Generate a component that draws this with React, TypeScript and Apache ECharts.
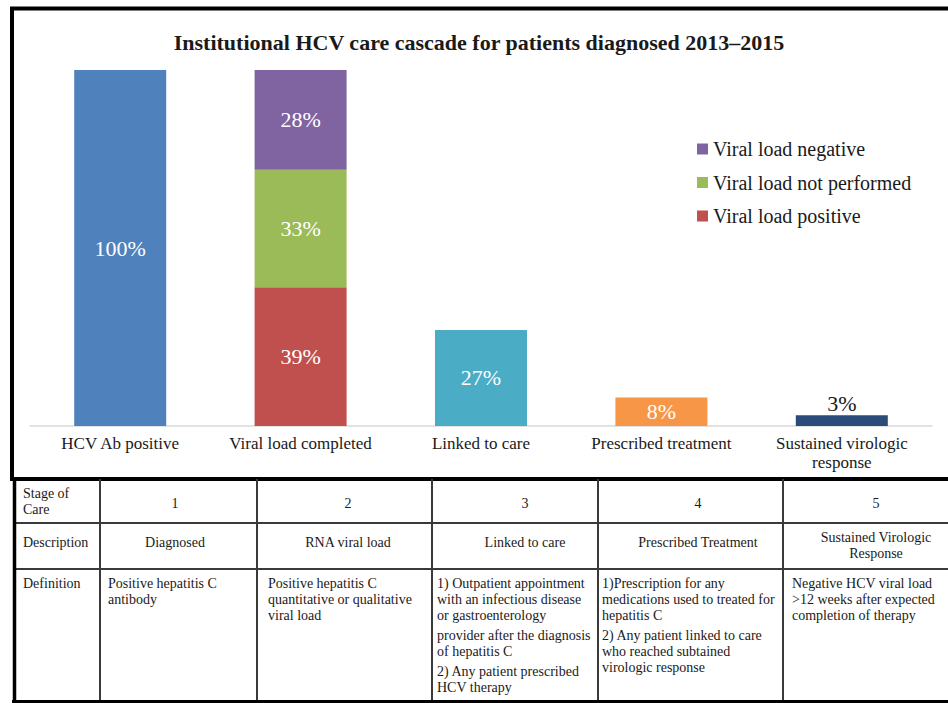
import React, { useEffect, useRef } from "react";
import * as echarts from "echarts";

// ---- Chart data ----
const titleText = "Institutional HCV care cascade for patients diagnosed 2013–2015";
const categories = [
  "HCV Ab positive",
  "Viral load completed",
  "Linked to care",
  "Prescribed treatment",
  "Sustained virologic\nresponse",
];
const cascadeValues = [100, null, 27, 8, 3];
const cascadeColors = ["#4F81BD", "#4F81BD", "#4BACC6", "#F79646", "#2B4C7A"];
const viralLoadPositive = [null, 39, null, null, null];
const viralLoadNotPerformed = [null, 33, null, null, null];
const viralLoadNegative = [null, 28, null, null, null];
const legendNames = ["Viral load negative", "Viral load not performed", "Viral load positive"];

// ---- Table data ----
const rowHeaders = ["Stage of\nCare", "Description", "Definition"];
const stageRow = ["1", "2", "3", "4", "5"];
const descriptionRow = [
  "Diagnosed",
  "RNA viral load",
  "Linked to care",
  "Prescribed Treatment",
  "Sustained Virologic\nResponse",
];
const definitionRow: string[][][] = [
  [["Positive hepatitis C", "antibody"]],
  [["Positive hepatitis C", "quantitative or qualitative", "viral load"]],
  [
    ["1) Outpatient appointment", "with an infectious disease", "or gastroenterology"],
    ["provider after the diagnosis", "of hepatitis C"],
    ["2) Any patient prescribed", "HCV therapy"],
  ],
  [
    ["1)Prescription for any", "medications used to treated for", "hepatitis C"],
    ["2) Any patient linked to care", "who reached subtained", "virologic response"],
  ],
  [["Negative HCV viral load", ">12 weeks after expected", "completion of therapy"]],
];

const FAMILY = "Liberation Serif";
const TEXT = "#1a1a1a";

export default function App() {
  const ref = useRef<HTMLDivElement>(null);

  useEffect(() => {
    if (!ref.current) return;
    const chart = echarts.init(ref.current, null, { renderer: "svg" });

    // table layout
    const colLines = [100, 257, 432, 598, 783];
    const colCenters = [175, 348, 525, 698, 876];
    const colLefts = [108, 268, 437, 602, 792];
    const tableTop = 479;
    const tableBottom = 701.5;
    const rowLines = [523, 569];

    const graphics: any[] = [];
    // chart box
    graphics.push({
      type: "rect",
      shape: { x: 12, y: 8.5, width: 970, height: 470.5 },
      style: { fill: "none", stroke: "#000", lineWidth: 4 },
      silent: true,
    });
    // title
    graphics.push({
      type: "text",
      x: 479,
      y: 42,
      style: {
        text: titleText,
        align: "center",
        verticalAlign: "middle",
        fontFamily: FAMILY,
        fontSize: 22,
        fontWeight: "bold",
        fill: TEXT,
      },
    });
    // table lines
    rowLines.forEach((y) =>
      graphics.push({
        type: "line",
        shape: { x1: 14, y1: y, x2: 948, y2: y },
        style: { stroke: "#3a3a3a", lineWidth: 2 },
      })
    );
    colLines.forEach((x) =>
      graphics.push({
        type: "line",
        shape: { x1: x, y1: tableTop, x2: x, y2: tableBottom },
        style: { stroke: "#3a3a3a", lineWidth: 2 },
      })
    );
    graphics.push({
      type: "line",
      shape: { x1: 14.5, y1: tableTop, x2: 14.5, y2: 703 },
      style: { stroke: "#000", lineWidth: 3.5 },
    });
    graphics.push({
      type: "line",
      shape: { x1: 12, y1: tableBottom, x2: 948, y2: tableBottom },
      style: { stroke: "#000", lineWidth: 3 },
    });
    const tstyle = { fontFamily: FAMILY, fontSize: 14, fill: TEXT };
    // row headers
    graphics.push({
      type: "text",
      x: 23,
      y: 501,
      style: { ...tstyle, text: rowHeaders[0], align: "left", verticalAlign: "middle", lineHeight: 16 },
    });
    graphics.push({
      type: "text",
      x: 23,
      y: 542,
      style: { ...tstyle, text: rowHeaders[1], align: "left", verticalAlign: "middle" },
    });
    graphics.push({
      type: "text",
      x: 23,
      y: 583,
      style: { ...tstyle, text: rowHeaders[2], align: "left", verticalAlign: "middle" },
    });
    stageRow.forEach((t, i) =>
      graphics.push({
        type: "text",
        x: colCenters[i],
        y: 503,
        style: { ...tstyle, text: t, align: "center", verticalAlign: "middle" },
      })
    );
    descriptionRow.forEach((t, i) =>
      graphics.push({
        type: "text",
        x: colCenters[i],
        y: t.includes("\n") ? 545 : 542,
        style: { ...tstyle, text: t, align: "center", verticalAlign: "middle", lineHeight: 16 },
      })
    );
    definitionRow.forEach((paras, i) => {
      let y = 583;
      paras.forEach((lines, pi) => {
        if (pi > 0) y += 4;
        lines.forEach((line) => {
          graphics.push({
            type: "text",
            x: colLefts[i],
            y,
            style: { ...tstyle, text: line, align: "left", verticalAlign: "middle" },
          });
          y += 16;
        });
      });
    });

    const barLabel = {
      show: true,
      position: "inside",
      color: "#fff",
      fontSize: 22,
      fontFamily: FAMILY,
      formatter: "{c}%",
    };

    const cascadeData = cascadeValues.map((v, i) => {
      if (v === null) return "-";
      const item: any = { value: v, itemStyle: { color: cascadeColors[i] } };
      if (i === cascadeValues.length - 1) {
        item.label = { position: "top", color: TEXT, distance: 1 };
      }
      return item;
    });

    chart.setOption({
      animation: false,
      textStyle: { fontFamily: FAMILY },
      grid: { left: 30, right: 16, top: 70, bottom: 277, containLabel: false },
      legend: {
        data: legendNames,
        orient: "vertical",
        left: 692,
        top: 133,
        icon: "rect",
        itemWidth: 11,
        itemHeight: 11,
        itemGap: 11.5,
        textStyle: { fontSize: 20, color: TEXT, fontFamily: FAMILY, lineHeight: 22 },
      },
      xAxis: {
        type: "category",
        data: categories,
        axisLine: { lineStyle: { color: "#d9d9d9", width: 1.5 } },
        axisTick: { show: false },
        axisLabel: {
          interval: 0,
          fontSize: 17,
          color: TEXT,
          fontFamily: FAMILY,
          margin: 8,
          lineHeight: 19,
        },
      },
      yAxis: { type: "value", min: 0, max: 100, show: false, splitLine: { show: false } },
      series: [
        {
          name: "Cascade",
          type: "bar",
          stack: "total",
          barWidth: 92,
          data: cascadeData,
          label: barLabel,
        },
        {
          name: "Viral load positive",
          type: "bar",
          stack: "total",
          barWidth: 92,
          itemStyle: { color: "#C0504D" },
          data: viralLoadPositive.map((v) => (v === null ? "-" : v)),
          label: barLabel,
        },
        {
          name: "Viral load not performed",
          type: "bar",
          stack: "total",
          barWidth: 92,
          itemStyle: { color: "#9BBB59" },
          data: viralLoadNotPerformed.map((v) => (v === null ? "-" : v)),
          label: barLabel,
        },
        {
          name: "Viral load negative",
          type: "bar",
          stack: "total",
          barWidth: 92,
          itemStyle: { color: "#8064A2" },
          data: viralLoadNegative.map((v) => (v === null ? "-" : v)),
          label: barLabel,
        },
      ],
      graphic: graphics,
    });

    return () => chart.dispose();
  }, []);

  return (
    <div
      ref={ref}
      style={{ position: "fixed", left: 0, top: 0, width: 948, height: 703, background: "#fff" }}
    />
  );
}
